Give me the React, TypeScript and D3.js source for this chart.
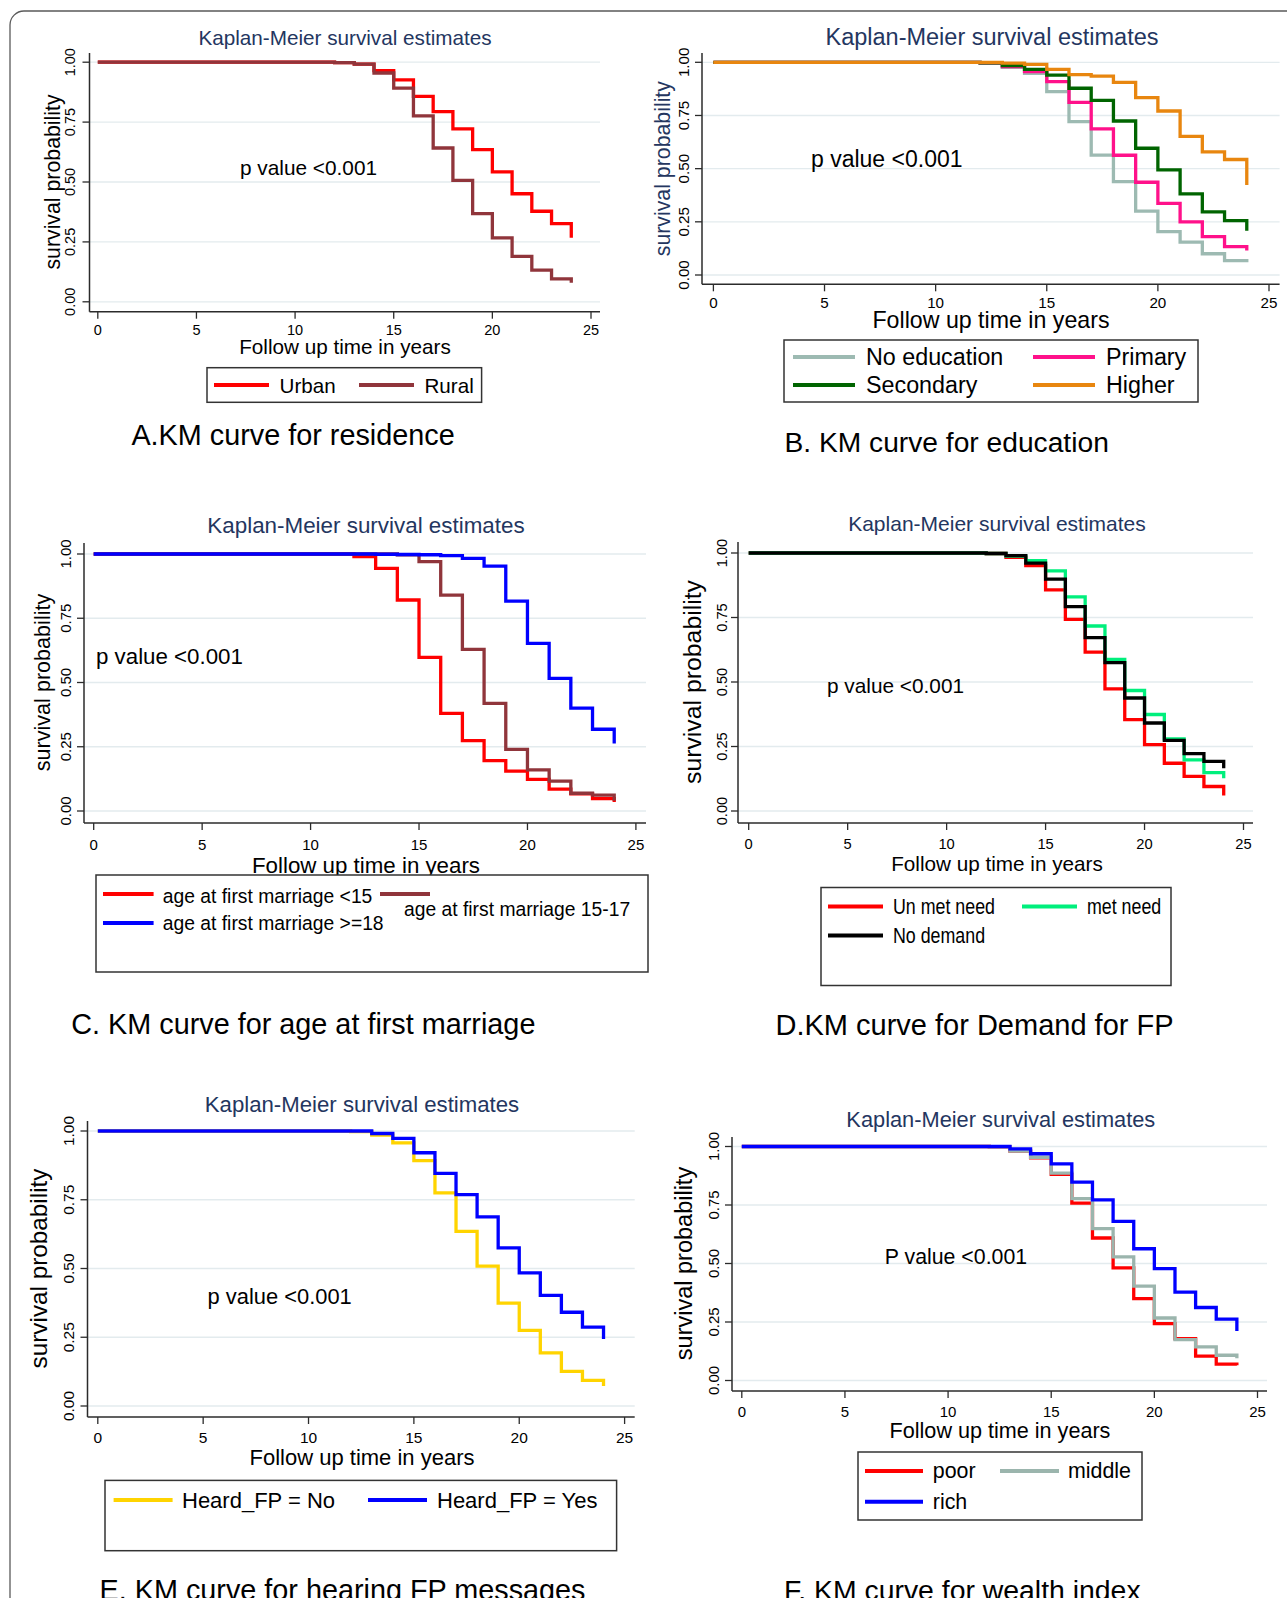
import React from 'react';
import * as d3 from 'd3';

// follow-up years where the KM steps happen (0, then every year from 12 to 24)
const years = [0, 12, 13, 14, 15, 16, 17, 18, 19, 20, 21, 22, 23, 24];
const xTicks = [0, 5, 10, 15, 20, 25];
const yTicks = [0, 0.25, 0.5, 0.75, 1];

// A. residence
const residenceNames = ['Urban', 'Rural'];
const urban = [1, 0.998, 0.992, 0.965, 0.926, 0.857, 0.794, 0.722, 0.635, 0.542, 0.451, 0.378, 0.326, 0.267];
const rural = [1, 0.998, 0.992, 0.955, 0.892, 0.776, 0.642, 0.507, 0.368, 0.267, 0.19, 0.132, 0.096, 0.079];

// B. education
const educationNames = ['No education', 'Primary', 'Secondary', 'Higher'];
const noEducation = [1, 0.995, 0.976, 0.948, 0.862, 0.721, 0.564, 0.439, 0.3, 0.204, 0.155, 0.1, 0.068, 0.06];
const primary = [1, 0.997, 0.98, 0.956, 0.909, 0.812, 0.687, 0.563, 0.436, 0.337, 0.25, 0.18, 0.133, 0.115];
const secondary = [1, 0.998, 0.984, 0.967, 0.94, 0.878, 0.821, 0.724, 0.596, 0.494, 0.381, 0.297, 0.256, 0.208];
const higher = [1, 1, 0.996, 0.99, 0.967, 0.942, 0.935, 0.906, 0.834, 0.771, 0.652, 0.579, 0.543, 0.423];

// C. age at first marriage
const marriageNames = ['age at first marriage <15', 'age at first marriage 15-17', 'age at first marriage >=18'];
const under15 = [1, 0.99, 0.944, 0.821, 0.598, 0.38, 0.274, 0.196, 0.155, 0.123, 0.085, 0.067, 0.048, 0.035];
const age15to17 = [1, 1, 1, 0.997, 0.97, 0.84, 0.629, 0.419, 0.24, 0.16, 0.116, 0.069, 0.062, 0.04];
const age18plus = [1, 1, 0.999, 0.998, 0.997, 0.994, 0.983, 0.953, 0.817, 0.652, 0.516, 0.4, 0.318, 0.263];

// D. demand for FP
const demandNames = ['Un met need', 'met need', 'No demand'];
const unmetNeed = [1, 0.998, 0.983, 0.951, 0.857, 0.743, 0.616, 0.473, 0.354, 0.257, 0.185, 0.134, 0.095, 0.06];
const metNeed = [1, 0.998, 0.988, 0.97, 0.931, 0.83, 0.717, 0.588, 0.467, 0.374, 0.279, 0.198, 0.149, 0.127];
const noDemand = [1, 0.998, 0.99, 0.961, 0.899, 0.792, 0.672, 0.575, 0.438, 0.341, 0.274, 0.222, 0.192, 0.166];

// E. heard FP messages
const heardNames = ['Heard_FP = No', 'Heard_FP = Yes'];
const heardNo = [1, 0.998, 0.985, 0.957, 0.892, 0.775, 0.635, 0.509, 0.374, 0.275, 0.193, 0.126, 0.093, 0.073];
const heardYes = [1, 1, 0.991, 0.973, 0.921, 0.846, 0.769, 0.688, 0.575, 0.484, 0.402, 0.341, 0.287, 0.244];

// F. wealth index
const wealthNames = ['poor', 'middle', 'rich'];
const poor = [1, 0.998, 0.98, 0.952, 0.881, 0.758, 0.609, 0.481, 0.35, 0.243, 0.179, 0.104, 0.07, 0.065];
const middle = [1, 0.998, 0.98, 0.954, 0.886, 0.777, 0.649, 0.528, 0.403, 0.267, 0.175, 0.144, 0.108, 0.095];
const rich = [1, 1, 0.99, 0.969, 0.926, 0.848, 0.772, 0.68, 0.563, 0.478, 0.378, 0.312, 0.262, 0.212];

const FONT = '"Liberation Sans", Arial, Helvetica, sans-serif';
const NAVY = '#24365f';
const GRID = '#e3ebee';
const AXIS = '#2b2b2b';

const RED = '#ff0000';
const MAROON = '#90353b';
const BLUE = '#0000ff';

// layout for each panel (pixel positions), series come from the arrays above
const panels = [
  {
    key: 'A',
    x0: 97.8, x25: 591, y0: 301.8, y1: 62.2,
    axL: 89.5, axR: 600, axT: 53, axB: 311.7,
    tickY: 330, tickSize: 14.5, ytickX: 70,
    ytitleX: 53, ytitleSize: 21.3, ytitleColor: '#000',
    titleX: 345, titleY: 45, titleSize: 20.7,
    xtitleX: 345, xtitleY: 354, xtitleSize: 20.7,
    pText: 'p value <0.001', pX: 240, pY: 175, pSize: 20.8,
    series: [
      { name: residenceNames[0], values: urban, color: RED },
      { name: residenceNames[1], values: rural, color: MAROON },
    ],
    box: { x: 207, y: 367.7, w: 274.6, h: 34.6 },
    legendSize: 20.6, legendScale: 1,
    legend: [
      { i: 0, lx1: 214, lx2: 269, ly: 385, tx: 279.6, ty: 385 },
      { i: 1, lx1: 359, lx2: 414, ly: 385, tx: 424.5, ty: 385 },
    ],
    caption: 'A.KM curve for residence', capX: 131.4, capY: 445, capSize: 28.8,
  },
  {
    key: 'B',
    x0: 713.4, x25: 1269, y0: 275, y1: 62.3,
    axL: 702, axR: 1279.6, axT: 53, axB: 284.3,
    tickY: 302, tickSize: 15.2, ytickX: 683,
    ytitleX: 663, ytitleSize: 21.3, ytitleColor: NAVY,
    titleX: 992, titleY: 45, titleSize: 23.5,
    xtitleX: 991, xtitleY: 328, xtitleSize: 23.2,
    pText: 'p value <0.001', pX: 811, pY: 167, pSize: 23,
    series: [
      { name: educationNames[0], values: noEducation, color: '#9dbab2' },
      { name: educationNames[1], values: primary, color: '#ff118a' },
      { name: educationNames[2], values: secondary, color: '#006400' },
      { name: educationNames[3], values: higher, color: '#e8860f' },
    ],
    box: { x: 784, y: 340, w: 414, h: 62 },
    legendSize: 23.3, legendScale: 1,
    legend: [
      { i: 0, lx1: 793, lx2: 855, ly: 357, tx: 866, ty: 357 },
      { i: 1, lx1: 1033, lx2: 1095, ly: 357, tx: 1106, ty: 357 },
      { i: 2, lx1: 793, lx2: 855, ly: 385, tx: 866, ty: 385 },
      { i: 3, lx1: 1033, lx2: 1095, ly: 385, tx: 1106, ty: 385 },
    ],
    caption: 'B. KM curve for education', capX: 784.5, capY: 452, capSize: 28.2,
  },
  {
    key: 'C',
    x0: 93.7, x25: 635.9, y0: 811, y1: 554,
    axL: 84, axR: 646, axT: 543, axB: 823,
    tickY: 844, tickSize: 15, ytickX: 65,
    ytitleX: 42, ytitleSize: 21.6, ytitleColor: '#000',
    titleX: 366, titleY: 532.5, titleSize: 22.4,
    xtitleX: 366, xtitleY: 873, xtitleSize: 22.3,
    pText: 'p value <0.001', pX: 96, pY: 664, pSize: 22.3,
    series: [
      { name: marriageNames[0], values: under15, color: RED },
      { name: marriageNames[1], values: age15to17, color: MAROON },
      { name: marriageNames[2], values: age18plus, color: BLUE },
    ],
    box: { x: 96, y: 875, w: 552, h: 97 },
    legendSize: 19.3, legendScale: 1,
    legend: [
      { i: 0, lx1: 103, lx2: 153.6, ly: 894, tx: 162.8, ty: 896 },
      { i: 1, lx1: 380, lx2: 430, ly: 894, tx: 404, ty: 909 },
      { i: 2, lx1: 103, lx2: 153.6, ly: 923, tx: 162.8, ty: 923 },
    ],
    caption: 'C. KM curve for age at first marriage', capX: 71.3, capY: 1034, capSize: 28.8,
  },
  {
    key: 'D',
    x0: 748.7, x25: 1243.5, y0: 811, y1: 553,
    axL: 738, axR: 1253, axT: 542, axB: 823,
    tickY: 844, tickSize: 14.7, ytickX: 721.5,
    ytitleX: 692.5, ytitleSize: 24.8, ytitleColor: '#000',
    titleX: 997, titleY: 531.4, titleSize: 21,
    xtitleX: 997, xtitleY: 871, xtitleSize: 20.7,
    pText: 'p value <0.001', pX: 827, pY: 693, pSize: 20.8,
    series: [
      { name: demandNames[0], values: unmetNeed, color: RED },
      { name: demandNames[1], values: metNeed, color: '#00ef7c' },
      { name: demandNames[2], values: noDemand, color: '#000000' },
    ],
    box: { x: 821, y: 887.5, w: 350, h: 98 },
    legendSize: 22, legendScale: 0.81,
    legend: [
      { i: 0, lx1: 828, lx2: 883, ly: 906.6, tx: 893, ty: 906.6 },
      { i: 1, lx1: 1022, lx2: 1077, ly: 906.6, tx: 1087, ty: 906.6 },
      { i: 2, lx1: 828, lx2: 883, ly: 935.4, tx: 893, ty: 935.4 },
    ],
    caption: 'D.KM curve for Demand for FP', capX: 775.5, capY: 1035, capSize: 29,
  },
  {
    key: 'E',
    x0: 97.8, x25: 624.6, y0: 1406, y1: 1131,
    axL: 87.5, axR: 634.7, axT: 1121, axB: 1417,
    tickY: 1437.5, tickSize: 15.5, ytickX: 68,
    ytitleX: 38.7, ytitleSize: 24.3, ytitleColor: '#000',
    titleX: 362, titleY: 1111.5, titleSize: 22.2,
    xtitleX: 362, xtitleY: 1465, xtitleSize: 22,
    pText: 'p value <0.001', pX: 207.5, pY: 1304, pSize: 21.9,
    series: [
      { name: heardNames[0], values: heardNo, color: '#ffd400' },
      { name: heardNames[1], values: heardYes, color: BLUE },
    ],
    box: { x: 105, y: 1480.4, w: 511.6, h: 70.3 },
    legendSize: 22, legendScale: 1,
    legend: [
      { i: 0, lx1: 113.6, lx2: 172.6, ly: 1500, tx: 182, ty: 1500 },
      { i: 1, lx1: 368, lx2: 427, ly: 1500, tx: 437, ty: 1500 },
    ],
    caption: 'E. KM curve for hearing FP messages', capX: 99.5, capY: 1600, capSize: 28.8,
  },
  {
    key: 'F',
    x0: 741.8, x25: 1257.5, y0: 1380.5, y1: 1146.5,
    axL: 732, axR: 1267, axT: 1137, axB: 1391,
    tickY: 1411.7, tickSize: 15, ytickX: 713,
    ytitleX: 684, ytitleSize: 23.5, ytitleColor: '#000',
    titleX: 1000.8, titleY: 1127, titleSize: 21.8,
    xtitleX: 1000, xtitleY: 1437.5, xtitleSize: 21.6,
    pText: 'P value <0.001', pX: 884.8, pY: 1264, pSize: 21.3,
    series: [
      { name: wealthNames[0], values: poor, color: RED },
      { name: wealthNames[1], values: middle, color: '#9bb5ad' },
      { name: wealthNames[2], values: rich, color: BLUE },
    ],
    box: { x: 858, y: 1452, w: 284, h: 68 },
    legendSize: 21.4, legendScale: 1,
    legend: [
      { i: 0, lx1: 865, lx2: 923, ly: 1471, tx: 932.8, ty: 1471 },
      { i: 1, lx1: 1000, lx2: 1059, ly: 1471, tx: 1068, ty: 1471 },
      { i: 2, lx1: 865, lx2: 923, ly: 1501.7, tx: 932.8, ty: 1501.7 },
    ],
    caption: 'F. KM curve for wealth index', capX: 784, capY: 1600, capSize: 28.4,
  },
];

type PanelCfg = (typeof panels)[number];

const KMPanel = ({ p }: { p: PanelCfg }) => {
  const x = d3.scaleLinear().domain([0, 25]).range([p.x0, p.x25]);
  const y = d3.scaleLinear().domain([0, 1]).range([p.y0, p.y1]);
  const line = d3
    .line<number>()
    .x((_, i) => x(years[i]))
    .y((d) => y(d))
    .curve(d3.curveStepAfter);
  const fmt = d3.format('.2f');

  return (
    <g fontFamily={FONT}>
      {/* gridlines */}
      {yTicks.map((t) => (
        <line key={'g' + t} x1={p.axL} x2={p.axR} y1={y(t)} y2={y(t)} stroke={GRID} strokeWidth={1.3} />
      ))}

      {/* axes */}
      <line x1={p.axL} x2={p.axL} y1={p.axT} y2={p.axB} stroke={AXIS} strokeWidth={1.5} />
      <line x1={p.axL} x2={p.axR} y1={p.axB} y2={p.axB} stroke={AXIS} strokeWidth={1.5} />
      {yTicks.map((t) => (
        <g key={'yt' + t}>
          <line x1={p.axL - 7} x2={p.axL} y1={y(t)} y2={y(t)} stroke={AXIS} strokeWidth={1.3} />
          <text
            transform={`translate(${p.ytickX},${y(t)}) rotate(-90)`}
            textAnchor="middle"
            dominantBaseline="central"
            fontSize={p.tickSize}
            fill="#000"
          >
            {fmt(t)}
          </text>
        </g>
      ))}
      {xTicks.map((t) => (
        <g key={'xt' + t}>
          <line x1={x(t)} x2={x(t)} y1={p.axB} y2={p.axB + 7} stroke={AXIS} strokeWidth={1.3} />
          <text x={x(t)} y={p.tickY} textAnchor="middle" dominantBaseline="central" fontSize={p.tickSize} fill="#000">
            {t}
          </text>
        </g>
      ))}

      {/* survival curves */}
      {p.series.map((s) => (
        <path key={s.name} d={line(s.values) ?? ''} fill="none" stroke={s.color} strokeWidth={3.3} strokeLinejoin="miter" />
      ))}

      {/* titles */}
      <text x={p.titleX} y={p.titleY} textAnchor="middle" fontSize={p.titleSize} fill={NAVY}>
        Kaplan-Meier survival estimates
      </text>
      <text
        transform={`translate(${p.ytitleX},${(p.y0 + p.y1) / 2}) rotate(-90)`}
        textAnchor="middle"
        dominantBaseline="central"
        fontSize={p.ytitleSize}
        fill={p.ytitleColor}
      >
        survival probability
      </text>
      <text x={p.xtitleX} y={p.xtitleY} textAnchor="middle" fontSize={p.xtitleSize} fill="#000">
        Follow up time in years
      </text>
      <text x={p.pX} y={p.pY} fontSize={p.pSize} fill="#000">
        {p.pText}
      </text>

      {/* legend */}
      <rect x={p.box.x} y={p.box.y} width={p.box.w} height={p.box.h} fill="#fff" stroke="#333" strokeWidth={1.5} />
      {p.legend.map((l) => {
        const s = p.series[l.i];
        return (
          <g key={'lg' + l.i}>
            <line x1={l.lx1} x2={l.lx2} y1={l.ly} y2={l.ly} stroke={s.color} strokeWidth={4} />
            <text
              transform={`translate(${l.tx},${l.ty}) scale(${p.legendScale},1)`}
              dominantBaseline="central"
              fontSize={p.legendSize}
              fill="#000"
            >
              {s.name}
            </text>
          </g>
        );
      })}

      {/* caption */}
      <text x={p.capX} y={p.capY} fontSize={p.capSize} fill="#000">
        {p.caption}
      </text>
    </g>
  );
};

const App = () => {
  return (
    <div style={{ position: 'absolute', left: 0, top: 0, width: 1287, height: 1598, background: '#fff' }}>
      <svg width={1287} height={1598} viewBox="0 0 1287 1598" style={{ display: 'block' }}>
        <rect x={0} y={0} width={1287} height={1598} fill="#fff" />
        <rect x={10} y={11} width={1320} height={1700} rx={14} ry={14} fill="none" stroke="#5a5a5a" strokeWidth={1.3} />
        {panels.map((p) => (
          <KMPanel key={p.key} p={p} />
        ))}
      </svg>
    </div>
  );
};

export default App;
